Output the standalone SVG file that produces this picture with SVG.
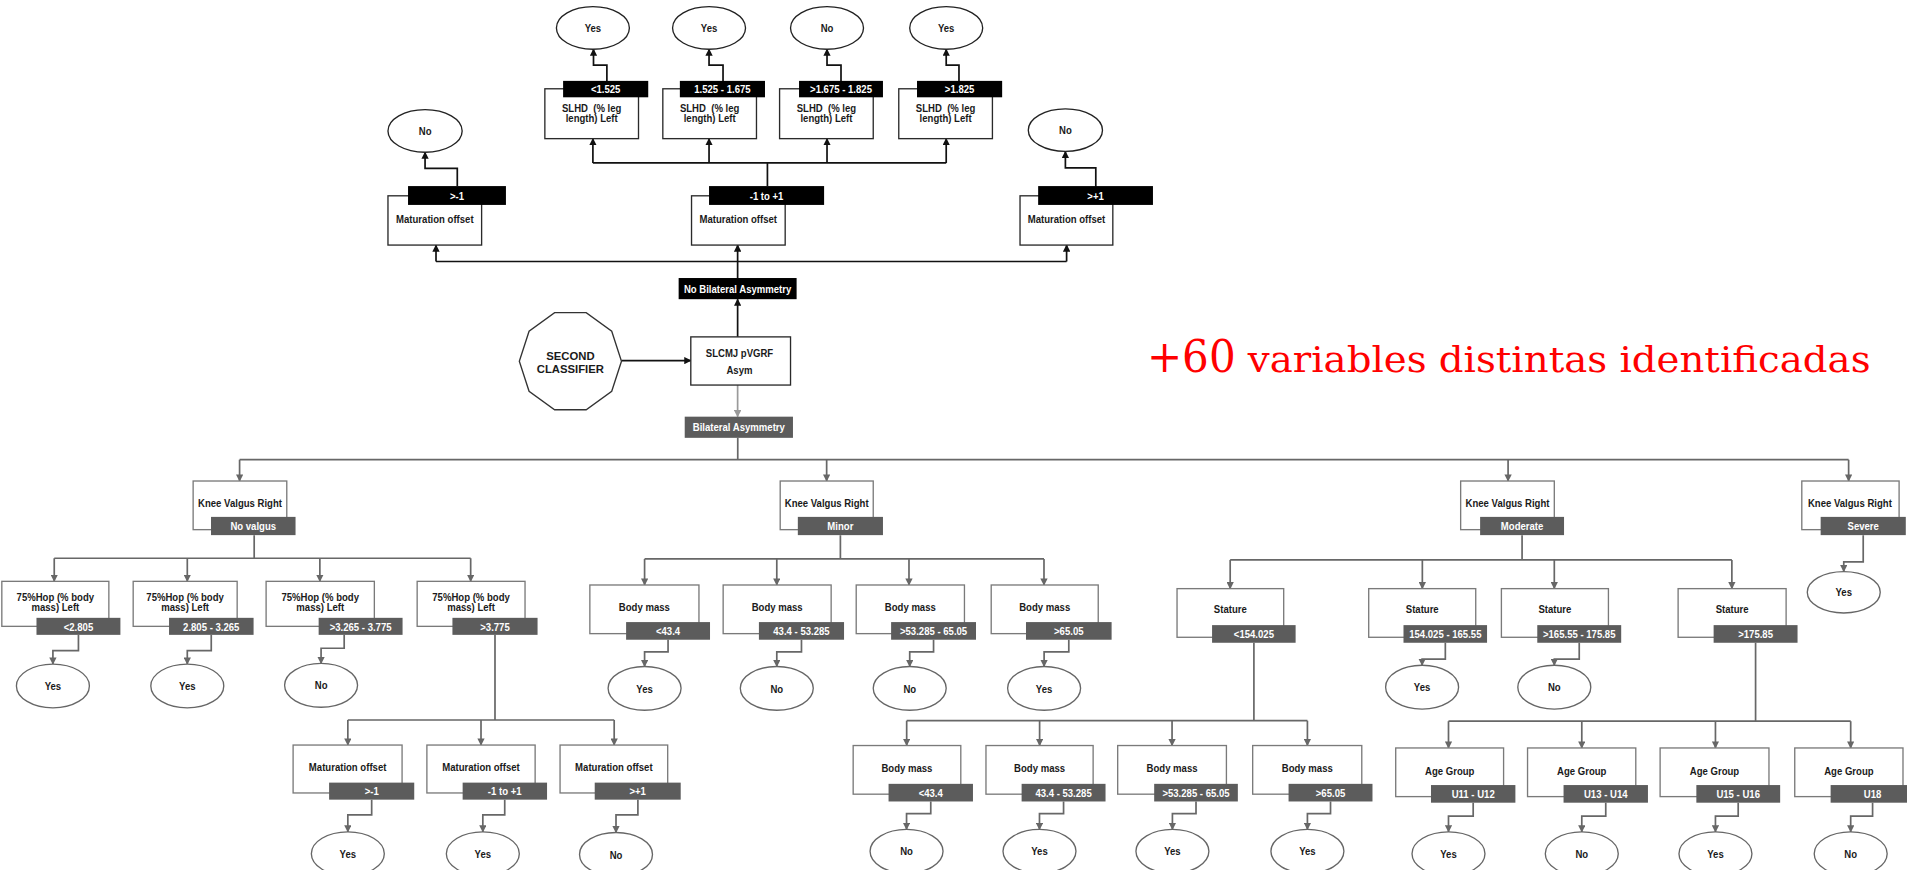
<svg xmlns="http://www.w3.org/2000/svg" width="1907" height="870" viewBox="0 0 1907 870">
<defs>
<style>
.bx{fill:#fff;stroke:#2a2a2a;stroke-width:1.1}
.bg{fill:#fff;stroke:#7a7a7a;stroke-width:1.1}
.lk{fill:#000}
.lg{fill:#5c5c5c}
.ek{fill:#fff;stroke:#222;stroke-width:1.1}
.eg{fill:#fff;stroke:#666;stroke-width:1.1}
text{font-family:"Liberation Sans",Arial,sans-serif;font-weight:bold;font-size:9.6px;text-anchor:middle;fill:#1a1a1a;transform-box:fill-box;transform-origin:50% 50%;transform:scaleX(.82)}
text.w{fill:#fff}
text.wide{font-size:9.3px;transform:none}
text.red{font-family:"DejaVu Serif",serif;font-weight:normal;fill:#ff0000;text-anchor:start;transform:none}
text.big{font-size:37px}
text.mid{font-size:29px}
.lk-line{fill:none;stroke:#111;stroke-width:1.4}
.lg-line{fill:none;stroke:#676767;stroke-width:1.4}
.ak{marker-end:url(#ak)}
.ag{marker-end:url(#ag)}
.al{fill:none;stroke:#9a9a9a;stroke-width:1.4;marker-end:url(#al)}
</style>
<marker id="ak" viewBox="0 0 10 10" refX="9" refY="5" markerWidth="6" markerHeight="6" markerUnits="userSpaceOnUse" orient="auto"><path d="M0,0L10,5L0,10z" fill="#111"/></marker>
<marker id="ag" viewBox="0 0 10 10" refX="9" refY="5" markerWidth="6" markerHeight="6" markerUnits="userSpaceOnUse" orient="auto"><path d="M0,0L10,5L0,10z" fill="#676767"/></marker>
<marker id="al" viewBox="0 0 10 10" refX="9" refY="5" markerWidth="6" markerHeight="6" markerUnits="userSpaceOnUse" orient="auto"><path d="M0,0L10,5L0,10z" fill="#9a9a9a"/></marker>
</defs>
<rect width="1907" height="870" fill="#fff"/>
<g transform="scale(1.2162)">

<!-- connectors -->
<g id="connectors">
  <!-- upper branch (black) -->
  <path class="lk-line ak" d="M606.5,277V246"/>
  <path class="lk-line ak" d="M511,296.5H568"/>
  <path class="al" d="M606.5,316.6V342.6"/>
  <path class="lk-line" d="M606.5,228.6V215M358.5,215H877"/>
  <path class="lk-line ak" d="M358.5,215V201.5"/>
  <path class="lk-line ak" d="M606.5,215V201.5"/>
  <path class="lk-line ak" d="M877,215V201.5"/>
  <path class="lk-line ak" d="M376,153V138.5H349.5V125.2"/>
  <path class="lk-line ak" d="M901,153.5V138H876V124.5"/>
  <path class="lk-line" d="M631,153V134M487.5,134H778"/>
  <path class="lk-line ak" d="M487.5,134V114"/>
  <path class="lk-line ak" d="M583,134V114"/>
  <path class="lk-line ak" d="M680,134V114"/>
  <path class="lk-line ak" d="M778,134V114"/>
  <path class="lk-line ak" d="M499,66.5V53.5H488V40.5"/>
  <path class="lk-line ak" d="M594.5,66.5V53.5H583V40.5"/>
  <path class="lk-line ak" d="M691.5,66.5V53.5H680V40.5"/>
  <path class="lk-line ak" d="M788.5,66.5V53.5H778V40.5"/>

  <!-- lower branch (grey) -->
  <path class="lg-line" d="M606.6,360V378M197,378H1520"/>
  <path class="lg-line ag" d="M197,378V395.5"/>
  <path class="lg-line ag" d="M679.7,378V395.5"/>
  <path class="lg-line ag" d="M1240,378V395.5"/>
  <path class="lg-line ag" d="M1520,378V395.5"/>

  <!-- No valgus -->
  <path class="lg-line" d="M209,440V459M44.6,459H387"/>
  <path class="lg-line ag" d="M44.6,459V478"/>
  <path class="lg-line ag" d="M154,459V478"/>
  <path class="lg-line ag" d="M263,459V478"/>
  <path class="lg-line ag" d="M387,459V478"/>
  <path class="lg-line ag" d="M64.5,522V535H43.5V546"/>
  <path class="lg-line ag" d="M173.7,522V535H154V546"/>
  <path class="lg-line ag" d="M283,522V533H264V545.5"/>
  <path class="lg-line" d="M407,522V592M286,592H505"/>
  <path class="lg-line ag" d="M286,592V612.6"/>
  <path class="lg-line ag" d="M395.5,592V612.6"/>
  <path class="lg-line ag" d="M505,592V612.6"/>
  <path class="lg-line ag" d="M305.6,657.5V670H286V684"/>
  <path class="lg-line ag" d="M415,657.5V670H397V684"/>
  <path class="lg-line ag" d="M524.5,657.5V670H506.5V684.5"/>

  <!-- Minor -->
  <path class="lg-line" d="M691,440V459.6M530,459.6H858.4"/>
  <path class="lg-line ag" d="M530,459.6V481"/>
  <path class="lg-line ag" d="M638.7,459.6V481"/>
  <path class="lg-line ag" d="M747.4,459.6V481"/>
  <path class="lg-line ag" d="M858.4,459.6V481"/>
  <path class="lg-line ag" d="M549.3,526V536H530V548"/>
  <path class="lg-line ag" d="M659,526V536H638.7V548"/>
  <path class="lg-line ag" d="M767.6,526V536H748V548"/>
  <path class="lg-line ag" d="M878.8,526V536H858.5V548"/>

  <!-- Moderate -->
  <path class="lg-line" d="M1251.5,440V460.4M1011.5,460.4H1424"/>
  <path class="lg-line ag" d="M1011.5,460.4V484"/>
  <path class="lg-line ag" d="M1169.5,460.4V484"/>
  <path class="lg-line ag" d="M1278,460.4V484"/>
  <path class="lg-line ag" d="M1424,460.4V484"/>
  <path class="lg-line ag" d="M1188.4,528.5V542H1169.3V547"/>
  <path class="lg-line ag" d="M1298.5,528.5V542H1278V547"/>
  <path class="lg-line" d="M1031,528.5V592.6M745.5,592.6H1075"/>
  <path class="lg-line ag" d="M745.5,592.6V613"/>
  <path class="lg-line ag" d="M854.8,592.6V613"/>
  <path class="lg-line ag" d="M963.7,592.6V613"/>
  <path class="lg-line ag" d="M1075,592.6V613"/>
  <path class="lg-line ag" d="M765.3,659V669H745.4V682"/>
  <path class="lg-line ag" d="M874.5,659V669H854.7V682"/>
  <path class="lg-line ag" d="M983.4,659V669H964V682"/>
  <path class="lg-line ag" d="M1094,659V669H1075V682"/>
  <path class="lg-line" d="M1443.5,528.5V593M1191,593H1521.7"/>
  <path class="lg-line ag" d="M1191,593V615"/>
  <path class="lg-line ag" d="M1300.6,593V615"/>
  <path class="lg-line ag" d="M1410.5,593V615"/>
  <path class="lg-line ag" d="M1521.7,593V615"/>
  <path class="lg-line ag" d="M1211.3,660V671H1191V684"/>
  <path class="lg-line ag" d="M1320.3,660V671H1300.6V684"/>
  <path class="lg-line ag" d="M1429.2,660V671H1410.5V684"/>
  <path class="lg-line ag" d="M1539.7,660V671H1521.7V684"/>

  <!-- Severe -->
  <path class="lg-line ag" d="M1532,440V462H1516V470"/>
</g>

<!-- upper outcome leaves -->
<g id="leaf-t1"><ellipse class="ek" cx="487.5" cy="23" rx="30" ry="17.5"/><text x="487.5" y="26.4">Yes</text></g>
<g id="leaf-t2"><ellipse class="ek" cx="583" cy="23" rx="30" ry="17.5"/><text x="583" y="26.4">Yes</text></g>
<g id="leaf-t3"><ellipse class="ek" cx="680" cy="23" rx="30" ry="17.5"/><text x="680" y="26.4">No</text></g>
<g id="leaf-t4"><ellipse class="ek" cx="778" cy="23" rx="30" ry="17.5"/><text x="778" y="26.4">Yes</text></g>
<g id="leaf-mat-low"><ellipse class="ek" cx="349.5" cy="107.7" rx="30.5" ry="17.5"/><text x="349.5" y="111.1">No</text></g>
<g id="leaf-mat-high"><ellipse class="ek" cx="876" cy="107" rx="30.5" ry="17.5"/><text x="876" y="110.4">No</text></g>

<!-- SLHD splits -->
<g id="slhd-1"><rect class="bx" x="448" y="73" width="77" height="41"/><rect class="lk" x="463" y="66.5" width="70" height="13.5"/><text class="w" x="498" y="76.7">&lt;1.525</text><text x="486.5" y="92.4">SLHD&#160; (% leg</text><text x="486.5" y="100.1">length) Left</text></g>
<g id="slhd-2"><rect class="bx" x="545" y="73" width="77" height="41"/><rect class="lk" x="559" y="66.5" width="70" height="13.5"/><text class="w" x="594" y="76.7">1.525 - 1.675</text><text x="583.5" y="92.4">SLHD&#160; (% leg</text><text x="583.5" y="100.1">length) Left</text></g>
<g id="slhd-3"><rect class="bx" x="641" y="73" width="77" height="41"/><rect class="lk" x="657" y="66.5" width="69" height="13.5"/><text class="w" x="691.5" y="76.7">&gt;1.675 - 1.825</text><text x="679.5" y="92.4">SLHD&#160; (% leg</text><text x="679.5" y="100.1">length) Left</text></g>
<g id="slhd-4"><rect class="bx" x="739" y="73" width="77" height="41"/><rect class="lk" x="754" y="66.5" width="70" height="13.5"/><text class="w" x="789" y="76.7">&gt;1.825</text><text x="777.5" y="92.4">SLHD&#160; (% leg</text><text x="777.5" y="100.1">length) Left</text></g>

<!-- maturation offset splits (upper) -->
<g id="mat-t1"><rect class="bx" x="319" y="161" width="77" height="40.5"/><rect class="lk" x="335.5" y="153" width="80.5" height="15.5"/><text class="w" x="375.7" y="164.2">&gt;-1</text><text x="357.5" y="183">Maturation offset</text></g>
<g id="mat-t2"><rect class="bx" x="568.6" y="161" width="77" height="40.5"/><rect class="lk" x="583" y="153" width="94.6" height="15.5"/><text class="w" x="630.3" y="164.2">-1 to +1</text><text x="607" y="183">Maturation offset</text></g>
<g id="mat-t3"><rect class="bx" x="838.7" y="161" width="76.3" height="40.5"/><rect class="lk" x="853.6" y="153" width="94.4" height="15.5"/><text class="w" x="900.8" y="164.2">&gt;+1</text><text x="876.9" y="183">Maturation offset</text></g>

<g id="no-asym"><rect class="lk" x="558" y="228.6" width="97" height="17.4"/><text class="w" x="606.5" y="240.7">No Bilateral Asymmetry</text></g>
<g id="root"><rect class="bx" x="568" y="277" width="82" height="39.6"/><text x="608" y="293.9">SLCMJ pVGRF</text><text x="608" y="307.6">Asym</text></g>
<g id="second-classifier"><polygon points="511,297 502.98,321.7 481.98,336.94 456.02,336.94 435.02,321.7 427,297 435.02,272.3 456.02,257.06 481.98,257.06 502.98,272.3" fill="#fff" stroke="#333" stroke-width="1.1"/><text class="wide" x="469" y="295.8">SECOND</text><text class="wide" x="469" y="306.7">CLASSIFIER</text></g>
<g id="asym"><rect class="lg" x="563" y="342.6" width="89" height="17.4"/><text class="w" x="607.5" y="354.7">Bilateral Asymmetry</text></g>

<g id="note"><text class="red big" x="943" y="306" textLength="73" lengthAdjust="spacingAndGlyphs">+60</text><text class="red mid" x="1026" y="306" textLength="512" lengthAdjust="spacingAndGlyphs">variables distintas identificadas</text></g>

<!-- knee valgus splits -->
<g id="knee-none"><rect class="bg" x="158.8" y="395.5" width="77" height="40"/><rect class="lg" x="173.5" y="425" width="69.5" height="15"/><text x="197.3" y="417.2">Knee Valgus Right</text><text class="w" x="208.2" y="436">No valgus</text></g>
<g id="knee-minor"><rect class="bg" x="641.5" y="395.5" width="76.5" height="40"/><rect class="lg" x="656" y="425" width="70" height="15"/><text x="679.7" y="417.2">Knee Valgus Right</text><text class="w" x="691" y="436">Minor</text></g>
<g id="knee-moderate"><rect class="bg" x="1201" y="395.5" width="77" height="40"/><rect class="lg" x="1217" y="425" width="69" height="15"/><text x="1239.5" y="417.2">Knee Valgus Right</text><text class="w" x="1251.5" y="436">Moderate</text></g>
<g id="knee-severe"><rect class="bg" x="1481.5" y="395.5" width="80" height="40"/><rect class="lg" x="1497" y="425" width="70" height="15"/><text x="1521" y="417.2">Knee Valgus Right</text><text class="w" x="1532" y="436">Severe</text></g>
<g id="leaf-severe"><ellipse class="eg" cx="1516" cy="487" rx="30" ry="17"/><text x="1516" y="490.4">Yes</text></g>

<!-- 75%Hop splits -->
<g id="hop-1"><rect class="bg" x="1.5" y="478" width="88" height="37"/><rect class="lg" x="30" y="508" width="69" height="14"/><text x="45.5" y="494.4">75%Hop (% body</text><text x="45.5" y="502.2">mass) Left</text><text class="w" x="64.5" y="518.5">&lt;2.805</text></g>
<g id="hop-2"><rect class="bg" x="109.5" y="478" width="85.5" height="37"/><rect class="lg" x="139" y="508" width="69.5" height="14"/><text x="152.2" y="494.4">75%Hop (% body</text><text x="152.2" y="502.2">mass) Left</text><text class="w" x="173.7" y="518.5">2.805 - 3.265</text></g>
<g id="hop-3"><rect class="bg" x="218.8" y="478" width="89" height="37"/><rect class="lg" x="262" y="508" width="69" height="14"/><text x="263.3" y="494.4">75%Hop (% body</text><text x="263.3" y="502.2">mass) Left</text><text class="w" x="296.5" y="518.5">&gt;3.265 - 3.775</text></g>
<g id="hop-4"><rect class="bg" x="343" y="478" width="88.7" height="37"/><rect class="lg" x="372" y="508" width="70" height="14"/><text x="387.3" y="494.4">75%Hop (% body</text><text x="387.3" y="502.2">mass) Left</text><text class="w" x="407" y="518.5">&gt;3.775</text></g>
<g id="leaf-hop-1"><ellipse class="eg" cx="43.5" cy="564" rx="30" ry="18"/><text x="43.5" y="567.4">Yes</text></g>
<g id="leaf-hop-2"><ellipse class="eg" cx="154" cy="564" rx="30" ry="18"/><text x="154" y="567.4">Yes</text></g>
<g id="leaf-hop-3"><ellipse class="eg" cx="264" cy="563.5" rx="30" ry="18"/><text x="264" y="566.9">No</text></g>

<!-- maturation offset splits (lower) -->
<g id="mat-b1"><rect class="bg" x="241" y="612.6" width="89.6" height="39.4"/><rect class="lg" x="270.6" y="643.5" width="70" height="14"/><text x="285.8" y="634">Maturation offset</text><text class="w" x="305.6" y="654">&gt;-1</text></g>
<g id="mat-b2"><rect class="bg" x="351" y="612.6" width="89" height="39.4"/><rect class="lg" x="380.4" y="643.5" width="69.4" height="14"/><text x="395.5" y="634">Maturation offset</text><text class="w" x="415" y="654">-1 to +1</text></g>
<g id="mat-b3"><rect class="bg" x="460.5" y="612.6" width="88.5" height="39.4"/><rect class="lg" x="489" y="643.5" width="70.7" height="14"/><text x="504.7" y="634">Maturation offset</text><text class="w" x="524.3" y="654">&gt;+1</text></g>
<g id="leaf-mat-b1"><ellipse class="eg" cx="286" cy="702" rx="30" ry="18"/><text x="286" y="705.4">Yes</text></g>
<g id="leaf-mat-b2"><ellipse class="eg" cx="397" cy="702" rx="30" ry="18"/><text x="397" y="705.4">Yes</text></g>
<g id="leaf-mat-b3"><ellipse class="eg" cx="506.5" cy="702.5" rx="30" ry="18"/><text x="506.5" y="705.9">No</text></g>

<!-- body mass splits (Minor) -->
<g id="mass-m1"><rect class="bg" x="485" y="481" width="89.7" height="40"/><rect class="lg" x="514.8" y="511.5" width="69" height="14.5"/><text x="529.8" y="502.3">Body mass</text><text class="w" x="549.3" y="522.2">&lt;43.4</text></g>
<g id="mass-m2"><rect class="bg" x="594.6" y="481" width="88.8" height="40"/><rect class="lg" x="624" y="511.5" width="70" height="14.5"/><text x="639" y="502.3">Body mass</text><text class="w" x="659" y="522.2">43.4 - 53.285</text></g>
<g id="mass-m3"><rect class="bg" x="704" y="481" width="89" height="40"/><rect class="lg" x="732.7" y="511.5" width="69.8" height="14.5"/><text x="748.5" y="502.3">Body mass</text><text class="w" x="767.6" y="522.2">&gt;53.285 - 65.05</text></g>
<g id="mass-m4"><rect class="bg" x="815" y="481" width="88" height="40"/><rect class="lg" x="843.6" y="511.5" width="70.4" height="14.5"/><text x="859" y="502.3">Body mass</text><text class="w" x="878.8" y="522.2">&gt;65.05</text></g>
<g id="leaf-mass-m1"><ellipse class="eg" cx="530" cy="566" rx="30" ry="18"/><text x="530" y="569.4">Yes</text></g>
<g id="leaf-mass-m2"><ellipse class="eg" cx="638.7" cy="566" rx="30" ry="18"/><text x="638.7" y="569.4">No</text></g>
<g id="leaf-mass-m3"><ellipse class="eg" cx="748" cy="566" rx="30" ry="18"/><text x="748" y="569.4">No</text></g>
<g id="leaf-mass-m4"><ellipse class="eg" cx="858.5" cy="566" rx="30" ry="18"/><text x="858.5" y="569.4">Yes</text></g>

<!-- stature splits (Moderate) -->
<g id="stat-1"><rect class="bg" x="967.8" y="484" width="87.7" height="40"/><rect class="lg" x="996.6" y="514" width="68.7" height="14.5"/><text x="1011.6" y="504.4">Stature</text><text class="w" x="1031" y="524.7">&lt;154.025</text></g>
<g id="stat-2"><rect class="bg" x="1125.4" y="484" width="88" height="40"/><rect class="lg" x="1154" y="514" width="68.7" height="14.5"/><text x="1169.4" y="504.4">Stature</text><text class="w" x="1188.4" y="524.7">154.025 - 165.55</text></g>
<g id="stat-3"><rect class="bg" x="1234.5" y="484" width="88" height="40"/><rect class="lg" x="1264" y="514" width="69" height="14.5"/><text x="1278.5" y="504.4">Stature</text><text class="w" x="1298.5" y="524.7">&gt;165.55 - 175.85</text></g>
<g id="stat-4"><rect class="bg" x="1379.8" y="484" width="88.8" height="40"/><rect class="lg" x="1409" y="514" width="69" height="14.5"/><text x="1424.2" y="504.4">Stature</text><text class="w" x="1443.5" y="524.7">&gt;175.85</text></g>
<g id="leaf-stat-2"><ellipse class="eg" cx="1169.3" cy="565" rx="30" ry="18"/><text x="1169.3" y="568.4">Yes</text></g>
<g id="leaf-stat-3"><ellipse class="eg" cx="1278" cy="565" rx="30" ry="18"/><text x="1278" y="568.4">No</text></g>

<!-- body mass splits (short stature) -->
<g id="mass-s1"><rect class="bg" x="701.5" y="613" width="88.5" height="40"/><rect class="lg" x="730.6" y="644.5" width="69.4" height="14.5"/><text x="745.7" y="634.4">Body mass</text><text class="w" x="765.3" y="655.2">&lt;43.4</text></g>
<g id="mass-s2"><rect class="bg" x="810.7" y="613" width="88.1" height="40"/><rect class="lg" x="840" y="644.5" width="69" height="14.5"/><text x="854.8" y="634.4">Body mass</text><text class="w" x="874.5" y="655.2">43.4 - 53.285</text></g>
<g id="mass-s3"><rect class="bg" x="919" y="613" width="89.4" height="40"/><rect class="lg" x="949" y="644.5" width="68.8" height="14.5"/><text x="963.7" y="634.4">Body mass</text><text class="w" x="983.4" y="655.2">&gt;53.285 - 65.05</text></g>
<g id="mass-s4"><rect class="bg" x="1030" y="613" width="89.7" height="40"/><rect class="lg" x="1059.5" y="644.5" width="69" height="14.5"/><text x="1074.9" y="634.4">Body mass</text><text class="w" x="1094" y="655.2">&gt;65.05</text></g>
<g id="leaf-mass-s1"><ellipse class="eg" cx="745.4" cy="700" rx="30" ry="18"/><text x="745.4" y="703.4">No</text></g>
<g id="leaf-mass-s2"><ellipse class="eg" cx="854.7" cy="700" rx="30" ry="18"/><text x="854.7" y="703.4">Yes</text></g>
<g id="leaf-mass-s3"><ellipse class="eg" cx="964" cy="700" rx="30" ry="18"/><text x="964" y="703.4">Yes</text></g>
<g id="leaf-mass-s4"><ellipse class="eg" cx="1075" cy="700" rx="30" ry="18"/><text x="1075" y="703.4">Yes</text></g>

<!-- age group splits (tall stature) -->
<g id="age-1"><rect class="bg" x="1147.6" y="615" width="88.7" height="40"/><rect class="lg" x="1176.6" y="645.5" width="69.4" height="14.5"/><text x="1192" y="637.1">Age Group</text><text class="w" x="1211.3" y="656.2">U11 - U12</text></g>
<g id="age-2"><rect class="bg" x="1256" y="615" width="89" height="40"/><rect class="lg" x="1285.6" y="645.5" width="69.4" height="14.5"/><text x="1300.5" y="637.1">Age Group</text><text class="w" x="1320.3" y="656.2">U13 - U14</text></g>
<g id="age-3"><rect class="bg" x="1365" y="615" width="89.5" height="40"/><rect class="lg" x="1394.8" y="645.5" width="68.9" height="14.5"/><text x="1409.7" y="637.1">Age Group</text><text class="w" x="1429.2" y="656.2">U15 - U16</text></g>
<g id="age-4"><rect class="bg" x="1475.7" y="615" width="89" height="40"/><rect class="lg" x="1505.2" y="645.5" width="69" height="14.5"/><text x="1520.2" y="637.1">Age Group</text><text class="w" x="1539.7" y="656.2">U18</text></g>
<g id="leaf-age-1"><ellipse class="eg" cx="1191" cy="702" rx="30" ry="18"/><text x="1191" y="705.4">Yes</text></g>
<g id="leaf-age-2"><ellipse class="eg" cx="1300.6" cy="702" rx="30" ry="18"/><text x="1300.6" y="705.4">No</text></g>
<g id="leaf-age-3"><ellipse class="eg" cx="1410.5" cy="702" rx="30" ry="18"/><text x="1410.5" y="705.4">Yes</text></g>
<g id="leaf-age-4"><ellipse class="eg" cx="1521.7" cy="702" rx="30" ry="18"/><text x="1521.7" y="705.4">No</text></g>

</g>
</svg>
